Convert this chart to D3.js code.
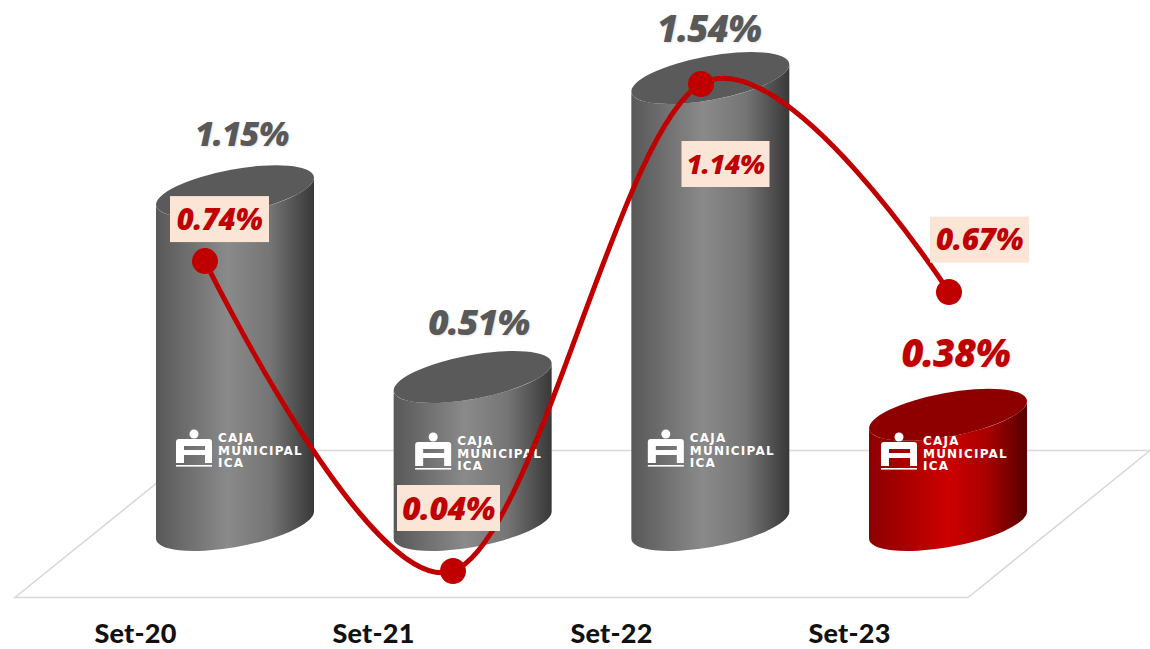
<!doctype html>
<html>

<head>
  <meta charset="utf-8">
  <script src="https://cdnjs.cloudflare.com/ajax/libs/d3/7.8.5/d3.min.js" type="text/JavaScript"></script>
  <style>
    body { margin: 0; background: #fff; }
    svg { display: block; }
    .barLabel, .lineLabel { font-family: "Open Sans", sans-serif; font-weight: 800; font-style: italic; text-anchor: middle; }
    .barLabel { letter-spacing: -1px; text-shadow: 1px 1px 2px rgba(0, 0, 0, .12); }
    .lineLabel { letter-spacing: -.5px; fill: #c00000; }
    .logoText { font-family: "DejaVu Sans", sans-serif; font-weight: 700; font-size: 12px; letter-spacing: 1.2px; fill: #fff; }
    .tick text { font-family: Lato, sans-serif; font-weight: 900; font-size: 27px; letter-spacing: .2px; fill: #111; }
  </style>
</head>

<body>
  <div id="viz"></div>
  <script>
    var categories = ["Set-20", "Set-21", "Set-22", "Set-23"];
    var barValues = [1.15, 0.51, 1.54, 0.38];
    var lineValues = [0.74, 0.04, 1.14, 0.67];
    var logoLines = ["CAJA", "MUNICIPAL", "ICA"];

    // layout only, hand placed against the reference
    var barLabelNudge = [[6.5, 2], [6, 5], [-1.5, 11], [7.5, -1]];
    var barLabelSize = [33, 35.5, 36.5, 38];
    var lineLabelNudge = [[14.5, -42], [-4.5, -63], [24.5, 80], [30.5, -52.5]];
    var lineLabelSize = [29.5, 32, 27, 30];
    var logoNudge = [[-17, 0], [-15.5, 3], [-20.5, 0], [-25, 3]];

    var width = 1150, height = 649;
    var fmt = d => d.toFixed(2) + "%";

    var svg = d3.select("#viz").append("svg").attr("width", width).attr("height", height);

    var xBar = d3.scalePoint().domain(categories).range([235, 948]);
    var xLine = d3.scalePoint().domain(categories).range([205, 949]);
    var xAxisScale = d3.scalePoint().domain(categories).range([135, 849]);
    var yBar = d3.scaleLinear().domain([0, 1.54]).range([525, 78]);
    var yLine = d3.scaleLinear().domain([0.04, 1.14]).range([571, 84]);

    var defs = svg.append("defs");
    function sideGradient(id, stops) {
      defs.append("linearGradient").attr("id", id)
        .selectAll("stop").data(stops).enter().append("stop")
        .attr("offset", d => d[0]).attr("stop-color", d => d[1]);
    }
    sideGradient("greySide", [[0, "#585858"], [0.45, "#8a8a8a"], [0.72, "#757575"], [1, "#383838"]]);
    sideGradient("redSide", [[0, "#8c0000"], [0.5, "#cc0000"], [0.75, "#a80000"], [1, "#560000"]]);

    // floor
    svg.append("path")
      .attr("d", "M15,597.5H968L1150,450.5H197Z")
      .attr("fill", "none").attr("stroke", "#d9d9d9").attr("stroke-width", 1.6);

    // tilted ellipse used for the cylinder ends
    var a = 80.2, b = 21.9, tilt = 10.5, halfW = 79, tangentY = 13.5;

    var bars = svg.selectAll("g.bar").data(categories).enter().append("g").attr("class", "bar")
      .attr("transform", d => `translate(${xBar(d)},0)`);

    bars.append("path")
      .attr("fill", (d, i) => i == 3 ? "url(#redSide)" : "url(#greySide)")
      .attr("d", (d, i) => {
        var t = yBar(barValues[i]), base = yBar(0);
        return `M${-halfW},${t + tangentY}L${-halfW},${base + tangentY}` +
          `A${a},${b},${-tilt},0,0,${halfW},${base - tangentY}` +
          `L${halfW},${t - tangentY}` +
          `A${a},${b},${-tilt},0,1,${-halfW},${t + tangentY}Z`;
      });

    bars.append("ellipse")
      .attr("rx", a).attr("ry", b)
      .attr("transform", (d, i) => `translate(0,${yBar(barValues[i])}) rotate(${-tilt})`)
      .attr("fill", (d, i) => i == 3 ? "#8e0000" : "#5a5a5a");

    // logo
    var logos = bars.append("g")
      .attr("transform", (d, i) => `translate(${logoNudge[i][0]},${logoNudge[i][1] + 450})`);
    logos.append("circle").attr("cx", -24).attr("cy", -16).attr("r", 4.5).attr("fill", "#fff");
    logos.append("path")
      .attr("fill", "#fff").attr("fill-rule", "evenodd")
      .attr("d", "M-42,13V-8Q-42,-11,-39,-11H-9Q-6,-11,-6,-8V13H-13V5H-34V13Z M-34,-4H-13V0H-34Z");
    logos.append("rect").attr("x", -42).attr("y", 15).attr("width", 36).attr("height", 1.6).attr("fill", "#fff");
    logos.selectAll("text").data(logoLines).enter().append("text")
      .attr("class", "logoText")
      .attr("x", 0).attr("y", (d, i) => -8 + i * 12.5)
      .text(d => d);

    // line
    var line = d3.line()
      .x((d, i) => xLine(categories[i]))
      .y(d => yLine(d))
      .curve(d3.curveCatmullRom.alpha(0));
    svg.append("path").datum(lineValues)
      .attr("d", line)
      .attr("fill", "none").attr("stroke", "#c00000").attr("stroke-width", 5);
    svg.selectAll("circle.pt").data(lineValues).enter().append("circle").attr("class", "pt")
      .attr("cx", (d, i) => xLine(categories[i])).attr("cy", d => yLine(d))
      .attr("r", 13).attr("fill", "#c00000");

    // bar labels
    svg.selectAll("text.barLabel").data(barValues).enter().append("text").attr("class", "barLabel")
      .attr("x", (d, i) => xBar(categories[i]) + barLabelNudge[i][0])
      .attr("y", (d, i) => yBar(d) - 47 + barLabelNudge[i][1])
      .attr("font-size", (d, i) => barLabelSize[i])
      .attr("fill", (d, i) => i == 3 ? "#c00000" : "#595959")
      .text(fmt);

    // line labels with box behind
    var lineLabels = svg.selectAll("g.lineLabel").data(lineValues).enter().append("g")
      .attr("transform", (d, i) => `translate(${xLine(categories[i]) + lineLabelNudge[i][0]},${yLine(d) + lineLabelNudge[i][1]})`);
    lineLabels.append("rect")
      .attr("x", (d, i) => i == 2 ? -44 : i == 1 ? -51.5 : -49.5).attr("y", -23)
      .attr("width", (d, i) => i == 2 ? 88 : i == 1 ? 103 : 99).attr("height", 46)
      .attr("fill", "#fbe5d6");
    lineLabels.append("text").attr("class", "lineLabel")
      .attr("y", (d, i) => lineLabelSize[i] * 0.36)
      .attr("font-size", (d, i) => lineLabelSize[i])
      .text(fmt);

    // axis
    var axis = svg.append("g")
      .attr("transform", "translate(0,616)")
      .call(d3.axisBottom(xAxisScale).tickSize(0).tickPadding(8));
    axis.select(".domain").remove();
  </script>
</body>

</html>
